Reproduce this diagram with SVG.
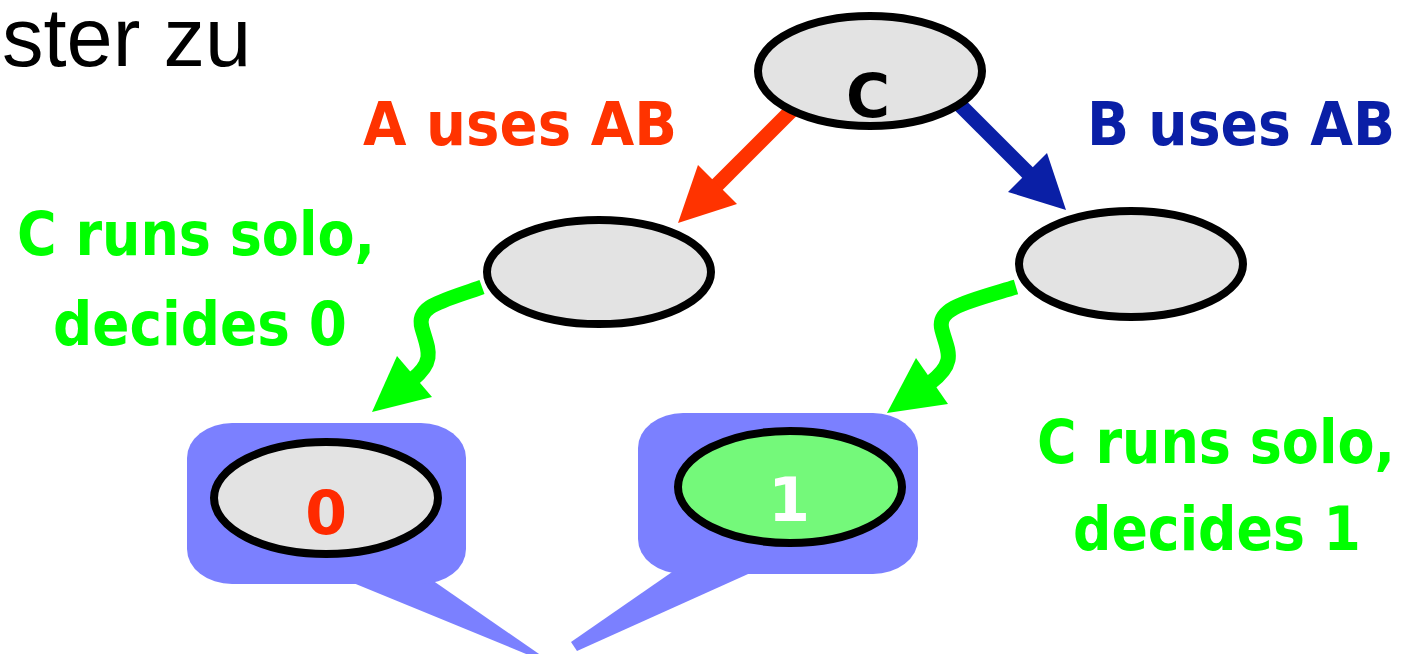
<svg xmlns="http://www.w3.org/2000/svg" width="1414" height="654" viewBox="0 0 1414 654">
<style>
.node{fill:#e3e3e3;stroke:#000;stroke-width:8}
.lbl{font-family:"DejaVu Sans","Liberation Sans",sans-serif;font-weight:bold;font-size:60px}
.green{fill:#00ff00}
.gshaft{fill:none;stroke:#00ff00;stroke-width:15}
.callout{fill:#7b80ff}
</style>
<rect width="1414" height="654" fill="#fff"/>
<text x="2" y="66" font-family="'Liberation Sans',Arial,sans-serif" font-size="83" fill="#000">ster zu</text>

<g id="callouts">
  <g id="callout-left">
    <polygon class="callout" points="346,580 531,656 542,656 432,580"/>
    <rect class="callout" x="187" y="423" width="279" height="161" rx="45" ry="35"/>
  </g>
  <g id="callout-right">
    <polygon class="callout" points="757,570 577,651 571,642 675,570"/>
    <rect class="callout" x="638" y="413" width="280" height="161" rx="45" ry="35"/>
  </g>
</g>

<g id="connectors">
  <line x1="805" y1="97" x2="714" y2="188" stroke="#ff3300" stroke-width="15"/>
  <polygon fill="#ff3300" points="678,223 698,165 737,204"/>
  <line x1="940" y1="85" x2="1031" y2="176" stroke="#0a1fa6" stroke-width="15"/>
  <polygon fill="#0a1fa6" points="1066,210 1008,192 1047,153"/>
  <path class="gshaft" d="M482,287 C440,302 416,306 422,328 C428,349 436,361 412,380"/>
  <polygon class="green" points="372,412 397,356 432,397"/>
  <path class="gshaft" d="M1016,287 C966,302 936,308 942,330 C947,350 958,362 930,383"/>
  <polygon class="green" points="887,413 916,358 948,404"/>
</g>

<g id="node-c">
  <ellipse class="node" cx="870" cy="71" rx="112" ry="55"/>
  <text class="lbl" x="868" y="117" font-size="78" text-anchor="middle" fill="#000">C</text>
</g>
<g id="node-left">
  <ellipse class="node" cx="599" cy="272" rx="112" ry="52"/>
</g>
<g id="node-right">
  <ellipse class="node" cx="1131" cy="264" rx="112" ry="53"/>
</g>
<g id="node-zero">
  <ellipse class="node" cx="326" cy="498" rx="112" ry="56"/>
  <text class="lbl" x="326" y="534" font-size="90" text-anchor="middle" fill="#ff2a00">0</text>
</g>
<g id="node-one">
  <ellipse class="node" cx="790" cy="487" rx="112" ry="56" style="fill:#74f97a"/>
  <text class="lbl" x="789" y="521" font-size="86" text-anchor="middle" fill="#fff">1</text>
</g>

<g id="labels">
  <text class="lbl" x="363" y="145" fill="#ff3300" textLength="314" lengthAdjust="spacingAndGlyphs">A uses AB</text>
  <text class="lbl" x="1087" y="145" fill="#0a1fa6" textLength="308" lengthAdjust="spacingAndGlyphs">B uses AB</text>
  <text class="lbl green" x="17" y="255" textLength="358" lengthAdjust="spacingAndGlyphs">C runs solo,</text>
  <text class="lbl green" x="53" y="345" textLength="294" lengthAdjust="spacingAndGlyphs">decides 0</text>
  <text class="lbl green" x="1037" y="463" textLength="358" lengthAdjust="spacingAndGlyphs">C runs solo,</text>
  <text class="lbl green" x="1073" y="550" textLength="288" lengthAdjust="spacingAndGlyphs">decides 1</text>
</g>
</svg>
